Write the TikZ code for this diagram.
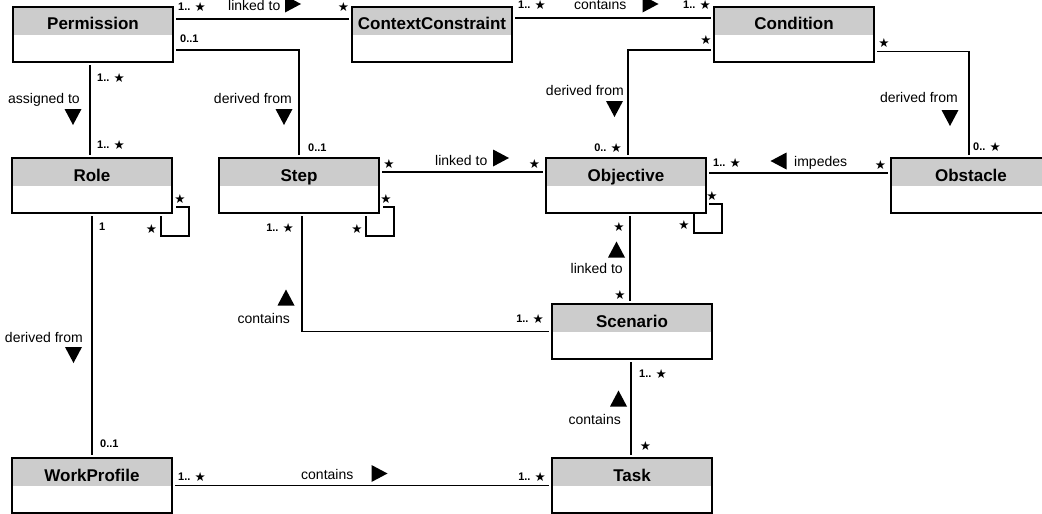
\documentclass[tikz,border=0pt]{standalone}
\usepackage{fontspec}
\setmainfont{Liberation Sans}
\newfontfamily\dejavu{DejaVu Sans}
\usetikzlibrary{calc}
\definecolor{hdr}{RGB}{204,204,204}
\newcommand\mst{{\dejavu\fontsize{12.5}{12}\selectfont\raisebox{-1pt}{★}}}
\begin{document}
\begin{tikzpicture}[x=1pt,y=-1pt,
  cls/.style={draw, line width=1.3pt, minimum width=160pt, inner xsep=0pt, inner ysep=0pt,
    text height=23pt, text depth=32pt, font=\fontsize{17}{17}\selectfont\bfseries, outer sep=3pt,
    path picture={\fill[hdr] (path picture bounding box.north west) rectangle ([yshift=-28pt]path picture bounding box.north east);}},
  conn/.style={line width=1.4pt},
  lbl/.style={font=\fontsize{14}{14}\selectfont, inner sep=0pt},
  mult/.style={font=\fontsize{11}{11}\selectfont\bfseries, inner sep=0pt},
  triU/.pic={\fill (0,-8) -- (8.5,8) -- (-8.5,8) -- cycle;},
  triD/.pic={\fill (0,8) -- (8.5,-8) -- (-8.5,-8) -- cycle;},
  triR/.pic={\fill (8,0) -- (-8,-8.5) -- (-8,8.5) -- cycle;},
  triL/.pic={\fill (-8,0) -- (8,-8.5) -- (8,8.5) -- cycle;}
]
\fill[white] (0,0) rectangle (1042,514);
\useasboundingbox (0,0) rectangle (1042,514);
\clip (0,0) rectangle (1042,514);

% classes
\node[cls] (perm) at (93,34.5) {Permission};
\node[cls] (cc)   at (432,34.5) {ContextConstraint};
\node[cls] (cond) at (794,34.5) {Condition};
\node[cls] (role) at (92,185.5) {Role};
\node[cls] (step) at (299,185.5) {Step};
\node[cls] (obj)  at (626,185.5) {Objective};
\node[cls] (obst) at (971,185.5) {Obstacle};
\node[cls] (scen) at (632,331.5) {Scenario};
\node[cls] (task) at (632,485.5) {Task};
\node[cls] (wp)   at (92,485.5) {WorkProfile};

% connectors
\draw[conn] ([yshift=15.5pt]perm.east) -- ([yshift=15.5pt]cc.west);
\draw[conn] ([yshift=-15.5pt]perm.east) -| (step.north);
\draw[conn] ([xshift=-3pt]perm.south) -- ([xshift=-2pt]role.north);
\draw[conn] ([yshift=16.5pt]cc.east) -- ([yshift=16.5pt]cond.west);
\draw[conn] ([yshift=-15.5pt]cond.west) -| ([xshift=2pt]obj.north);
\draw[conn] ([yshift=-17pt]cond.east) -| ([xshift=-2pt]obst.north);
\draw[conn] ([yshift=13.5pt]step.east) -- ([yshift=13.5pt]obj.west);
\draw[conn] ([yshift=12.5pt]obj.east) -- ([yshift=12.5pt]obst.west);
\draw[conn] (role.south) -- (wp.north);
\draw[conn] ([xshift=3pt]step.south) |- (scen.west);
\draw[conn] ([xshift=4pt]obj.south) -- ([xshift=-2pt]scen.north);
\draw[conn] ([xshift=-1pt]scen.south) -- ([xshift=-1pt]task.north);
\draw[conn] (wp.east) -- (task.west);
% self loops
\draw[conn] ($(role.south east)+(1,-9)$) -- ++(13,0) -- ++(0,29) -- ++(-28,0) -- ++(0,-20);
\draw[conn] ($(step.south east)+(1,-9)$) -- ++(11,0) -- ++(0,29) -- ++(-28,0) -- ++(0,-20);
\draw[conn] ($(obj.south east)+(0,-12)$) -- ++(13,0) -- ++(0,29) -- ++(-28,0) -- ++(0,-20);

% association names
\node[lbl, anchor=base west] (a1) at (228,10) {linked to};
\node[lbl, anchor=base west] (a2) at (574,9.5) {contains};
\node[lbl, anchor=base east] (a3) at (292,103) {derived from};
\node[lbl, anchor=base east] (a4) at (80,103) {assigned to};
\node[lbl, anchor=base east] (a5) at (624,95) {derived from};
\node[lbl, anchor=base east] (a6) at (958,102) {derived from};
\node[lbl, anchor=base west] (a7) at (435,165) {linked to};
\node[lbl, anchor=base west] (a8) at (794,166) {impedes};
\node[lbl, anchor=base east] (a9) at (623,273) {linked to};
\node[lbl, anchor=base east] (a10) at (290,323) {contains};
\node[lbl, anchor=base east] (a11) at (621,424) {contains};
\node[lbl, anchor=base west] (a12) at (301,479) {contains};
\node[lbl, anchor=base east] (a13) at (83,342) {derived from};

% direction triangles
\pic at (293,4) {triR};
\pic at (73,117) {triD};
\pic at (284,117) {triD};
\pic at (650.5,4) {triR};
\pic at (614.5,109) {triD};
\pic at (950,118) {triD};
\pic at (501,158) {triR};
\pic at (778.5,161) {triL};
\pic at (616.5,249.5) {triU};
\pic at (286,297.5) {triU};
\pic at (73.5,355) {triD};
\pic at (618.5,398.5) {triU};
\pic at (379.5,473.5) {triR};

% multiplicities
\node[mult, anchor=base west] (m1) at (178,10) {1.. \mst};
\node[mult, anchor=base] (m2) at (343.5,10) {\mst};
\node[mult, anchor=base west] (m3) at (518,8.5) {1.. \mst};
\node[mult, anchor=base west] (m4) at (683,8.5) {1.. \mst};
\node[mult, anchor=base west] (m5) at (180,42) {0..1};
\node[mult, anchor=base west] (m6) at (97,81) {1.. \mst};
\node[mult, anchor=base west] (m7) at (97,148) {1.. \mst};
\node[mult, anchor=base west] (m8) at (308,151) {0..1};
\node[mult, anchor=base] (m9) at (706,44) {\mst};
\node[mult, anchor=base] (m10) at (884,46) {\mst};
\node[mult, anchor=base east] (m11) at (622,151) {0.. \mst};
\node[mult, anchor=base west] (m12) at (973,150) {0.. \mst};
\node[mult, anchor=base west] (m13) at (713,166) {1.. \mst};
\node[mult, anchor=base] (m14) at (880.5,168) {\mst};
\node[mult, anchor=base] (m15) at (389,167) {\mst};
\node[mult, anchor=base] (m16) at (534.5,167) {\mst};
\node[mult, anchor=base] (m17) at (180,202) {\mst};
\node[mult, anchor=base] (m18) at (151.5,232) {\mst};
\node[mult, anchor=base] (m19) at (386,202) {\mst};
\node[mult, anchor=base] (m20) at (357,232) {\mst};
\node[mult, anchor=base] (m21) at (712,199) {\mst};
\node[mult, anchor=base] (m22) at (684,228) {\mst};
\node[mult, anchor=base west] (m23) at (99,230) {1};
\node[mult, anchor=base east] (m24) at (294,231) {1.. \mst};
\node[mult, anchor=base] (m25) at (619,230) {\mst};
\node[mult, anchor=base] (m26) at (620,298) {\mst};
\node[mult, anchor=base east] (m27) at (544,322) {1.. \mst};
\node[mult, anchor=base west] (m28) at (639,377) {1.. \mst};
\node[mult, anchor=base] (m29) at (645.5,449) {\mst};
\node[mult, anchor=base west] (m30) at (100,447) {0..1};
\node[mult, anchor=base west] (m31) at (178,480) {1.. \mst};
\node[mult, anchor=base east] (m32) at (546,480) {1.. \mst};
\end{tikzpicture}
\end{document}
